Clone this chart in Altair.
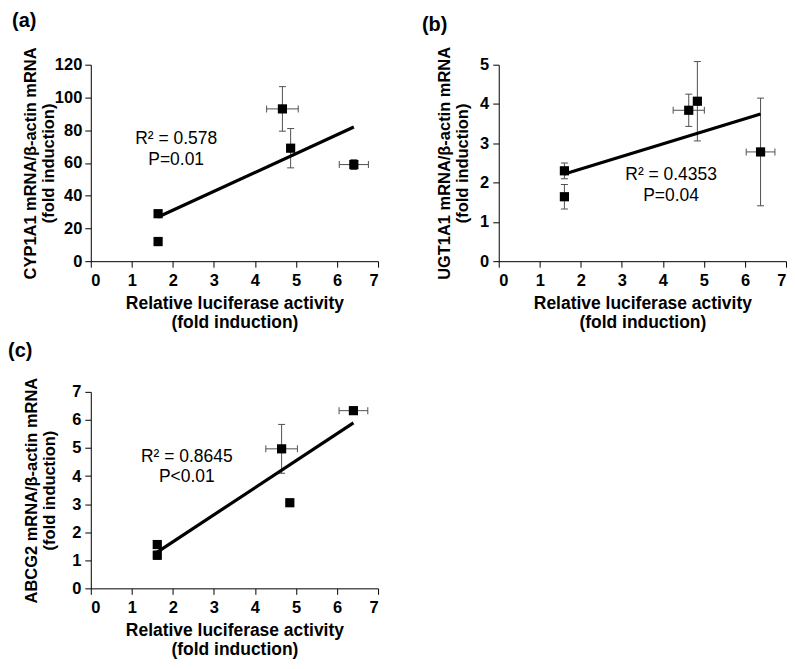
import altair as alt
import pandas as pd

FONT = "Liberation Sans"
ERR = "#505050"

# ---------------- data ----------------
# panel (a) CYP1A1
a_x = [1.64, 1.64, 4.67, 4.87, 6.41]
a_y = [29, 12, 93, 69, 59]
a_xerr = [0, 0, 0.385, 0, 0.355]
a_yerr = [2, 2.5, 13.6, 12, 3]
a_ann_x = [2.08, 2.08]
a_ann_y = [74.4, 61.8]
a_ann_t = ["R² = 0.578", "P=0.01"]

# panel (b) UGT1A1
b_x = [1.60, 1.60, 4.63, 4.84, 6.38]
b_y = [2.30, 1.64, 3.84, 4.07, 2.78]
b_xerr = [0, 0, 0.38, 0, 0.35]
b_yerr = [0.20, 0.31, 0.41, 1.01, 1.37]
b_ann_x = [4.20, 4.20]
b_ann_y = [2.19, 1.67]
b_ann_t = ["R² = 0.4353", "P=0.04"]

# panel (c) ABCG2
c_x = [1.62, 1.62, 4.65, 4.85, 6.40]
c_y = [1.56, 1.18, 4.97, 3.05, 6.33]
c_xerr = [0, 0, 0.385, 0, 0.35]
c_yerr = [0.05, 0.15, 0.87, 0.05, 0.06]
c_ann_x = [2.34, 2.34]
c_ann_y = [4.67, 3.97]
c_ann_t = ["R² = 0.8645", "P<0.01"]

x_ticks = [0, 1, 2, 3, 4, 5, 6, 7]
x_title = ["Relative luciferase activity", "(fold induction)"]


def panel(xs, ys, xerr, yerr, ax, ay, at, ymax, ystep, ytitle, label,
          height, label_dx, label_dy, y_label_pad, y_title_pad):
    df = pd.DataFrame({
        "x": xs, "y": ys, "xerr": xerr, "yerr": yerr,
        "xlo": [v - e for v, e in zip(xs, xerr)],
        "xhi": [v + e for v, e in zip(xs, xerr)],
        "ylo": [v - e for v, e in zip(ys, yerr)],
        "yhi": [v + e for v, e in zip(ys, yerr)],
    })
    ann = pd.DataFrame({"x": ax, "y": ay, "t": at})

    xscale = alt.Scale(domain=[0, 7], nice=False, zero=False)
    yscale = alt.Scale(domain=[0, ymax], nice=False, zero=False)
    xaxis = alt.Axis(values=x_ticks, title=x_title, grid=False,
                     tickSize=6, labelPadding=5, titlePadding=6,
                     titleFontSize=17.5, titleLineHeight=19)
    yaxis = alt.Axis(values=list(range(0, int(ymax) + 1, ystep)), title=ytitle,
                     grid=False, tickSize=6, labelPadding=y_label_pad,
                     titlePadding=y_title_pad, titleFontSize=16.5, titleLineHeight=18)

    def X(f):
        return alt.X(f"{f}:Q", scale=xscale, axis=xaxis)

    def Y(f):
        return alt.Y(f"{f}:Q", scale=yscale, axis=yaxis)

    base = alt.Chart(df)
    ve = base.transform_filter("datum.yerr > 0")
    he = base.transform_filter("datum.xerr > 0")

    vrule = ve.mark_rule(color=ERR, strokeWidth=1).encode(x=X("x"), y=Y("ylo"), y2="yhi")
    vcap1 = ve.mark_tick(orient="horizontal", size=7, thickness=1, color=ERR, opacity=1).encode(x=X("x"), y=Y("ylo"))
    vcap2 = ve.mark_tick(orient="horizontal", size=7, thickness=1, color=ERR, opacity=1).encode(x=X("x"), y=Y("yhi"))
    hrule = he.mark_rule(color=ERR, strokeWidth=1).encode(y=Y("y"), x=X("xlo"), x2="xhi")
    hcap1 = he.mark_tick(orient="vertical", size=7, thickness=1, color=ERR, opacity=1).encode(x=X("xlo"), y=Y("y"))
    hcap2 = he.mark_tick(orient="vertical", size=7, thickness=1, color=ERR, opacity=1).encode(x=X("xhi"), y=Y("y"))
    reg = base.transform_regression("x", "y").mark_line(color="black", strokeWidth=3.2).encode(x=X("x"), y=Y("y"))
    pts = base.mark_point(shape="square", filled=True, size=85, color="black", opacity=1).encode(x=X("x"), y=Y("y"))
    txt = alt.Chart(ann).mark_text(font=FONT, fontSize=17.5, color="black", align="center",
                                   baseline="middle").encode(x=X("x"), y=Y("y"), text="t:N")
    lab = alt.Chart(pd.DataFrame({"t": [label]})).mark_text(
        font=FONT, fontSize=20, fontWeight="bold", color="black", align="left", baseline="bottom"
    ).encode(text="t:N", x=alt.value(label_dx), y=alt.value(label_dy))

    return alt.layer(vrule, vcap1, vcap2, hrule, hcap1, hcap2, reg, pts, txt, lab).properties(
        width=288, height=height,
    )


pa = panel(a_x, a_y, a_xerr, a_yerr, a_ann_x, a_ann_y, a_ann_t, 120, 20,
           ["CYP1A1 mRNA/β-actin mRNA", "(fold induction)"], "(a)", 197, -79, -34, 3, -2)
pb = panel(b_x, b_y, b_xerr, b_yerr, b_ann_x, b_ann_y, b_ann_t, 5, 1,
           ["UGT1A1 mRNA/β-actin mRNA", "(fold induction)"], "(b)", 197, -77, -30, 4, 9)
pc = panel(c_x, c_y, c_xerr, c_yerr, c_ann_x, c_ann_y, c_ann_t, 7, 1,
           ["ABCG2 mRNA/β-actin mRNA", "(fold induction)"], "(c)", 197, -83, -31, 4, 14)

chart = alt.vconcat(
    alt.hconcat(pa, pb, spacing=43),
    pc,
    spacing=10,
).properties(
    padding={"left": 0, "top": 2, "right": 0, "bottom": 0},
    background="white",
).configure_view(stroke=None).configure_axis(
    domainColor="black", domainWidth=1, tickColor="black", tickWidth=1,
    labelFont=FONT, labelFontSize=16.5, labelFontWeight="bold", labelColor="black",
    titleFont=FONT, titleFontWeight="bold", titleColor="black",
)

chart.save("out.html", embed_options={"renderer": "svg", "actions": False})
